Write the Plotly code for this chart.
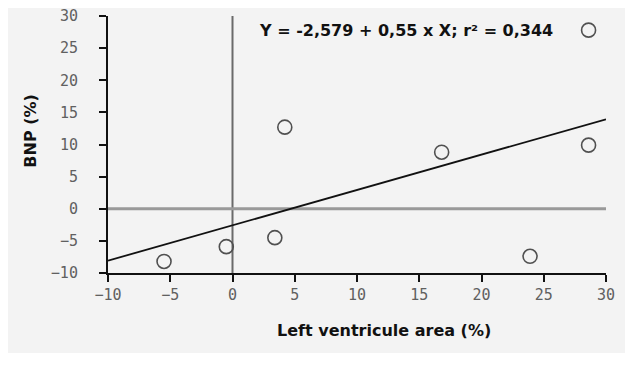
import plotly.graph_objects as go

lv_area = [-5.5, -0.5, 3.4, 4.2, 16.8, 23.9, 28.6, 28.6]
bnp = [-8.2, -5.9, -4.5, 12.7, 8.8, -7.4, 27.8, 9.9]
fit_x = [-10, 30]
intercept = -2.579
slope = 0.55
fit_y = [intercept + slope * x for x in fit_x]
x_ticks = [-10, -5, 0, 5, 10, 15, 20, 25, 30]
y_ticks = [-10, -5, 0, 5, 10, 15, 20, 25, 30]
x_tick_text = ["\u221210", "\u22125", "0", "5", "10", "15", "20", "25", "30"]
y_tick_text = ["\u221210", "\u22125", "0", "5", "10", "15", "20", "25", "30"]
equation = "Y = -2,579 + 0,55 x X; r\u00b2 = 0,344"
x_title = "Left ventricule area (%)"
y_title = "BNP (%)"

fig = go.Figure()
fig.add_trace(go.Scatter(x=[0, 0], y=[-10, 30], mode="lines",
                         line=dict(color="#6a6a6a", width=2), hoverinfo="skip", showlegend=False))
fig.add_trace(go.Scatter(x=[-10, 30], y=[0, 0], mode="lines",
                         line=dict(color="#999999", width=3), hoverinfo="skip", showlegend=False))
fig.add_trace(go.Scatter(x=fit_x, y=fit_y, mode="lines",
                         line=dict(color="#111111", width=1.8), showlegend=False))
fig.add_trace(go.Scatter(x=lv_area, y=bnp, mode="markers",
                         marker=dict(symbol="circle-open", size=14, color="#505050",
                                     line=dict(width=1.6, color="#505050")),
                         showlegend=False))

fig.add_annotation(x=2.0, y=27.8, xref="x", yref="y", text=equation, showarrow=False,
                   xanchor="left", yanchor="middle",
                   font=dict(family="DejaVu Sans", size=16, color="#111111", weight="bold"))
fig.add_annotation(x=0.554, y=-0.222, xref="paper", yref="paper", text=x_title, showarrow=False,
                   xanchor="center", yanchor="middle",
                   font=dict(family="DejaVu Sans", size=16, color="#111111", weight="bold"))
fig.add_annotation(x=-0.155, y=0.553, xref="paper", yref="paper", text=y_title, showarrow=False,
                   xanchor="center", yanchor="middle", textangle=-90,
                   font=dict(family="DejaVu Sans", size=16, color="#111111", weight="bold"))

fig.update_layout(
    width=617, height=345,
    margin=dict(l=100, r=19, t=8, b=80),
    paper_bgcolor="#f3f3f3", plot_bgcolor="rgba(0,0,0,0)",
    xaxis=dict(range=[-10, 30], tickvals=x_ticks, ticktext=x_tick_text, automargin=False,
               showgrid=False, zeroline=False, showline=True, linecolor="#111111", linewidth=2,
               ticks="outside", ticklen=7, tickwidth=2, tickcolor="#111111",
               ticklabeloverflow="allow",
               tickfont=dict(family="DejaVu Sans Mono", size=15, color="#606060")),
    yaxis=dict(range=[-10, 30], tickvals=y_ticks,
               ticktext=[t + "\u00a0\u2009" for t in y_tick_text], automargin=False,
               showgrid=False, zeroline=False, showline=True, linecolor="#111111", linewidth=2,
               ticks="outside", ticklen=7, tickwidth=2, tickcolor="#111111",
               ticklabeloverflow="allow",
               tickfont=dict(family="DejaVu Sans Mono", size=15, color="#606060")),
)

fig.write_html("out.html")
